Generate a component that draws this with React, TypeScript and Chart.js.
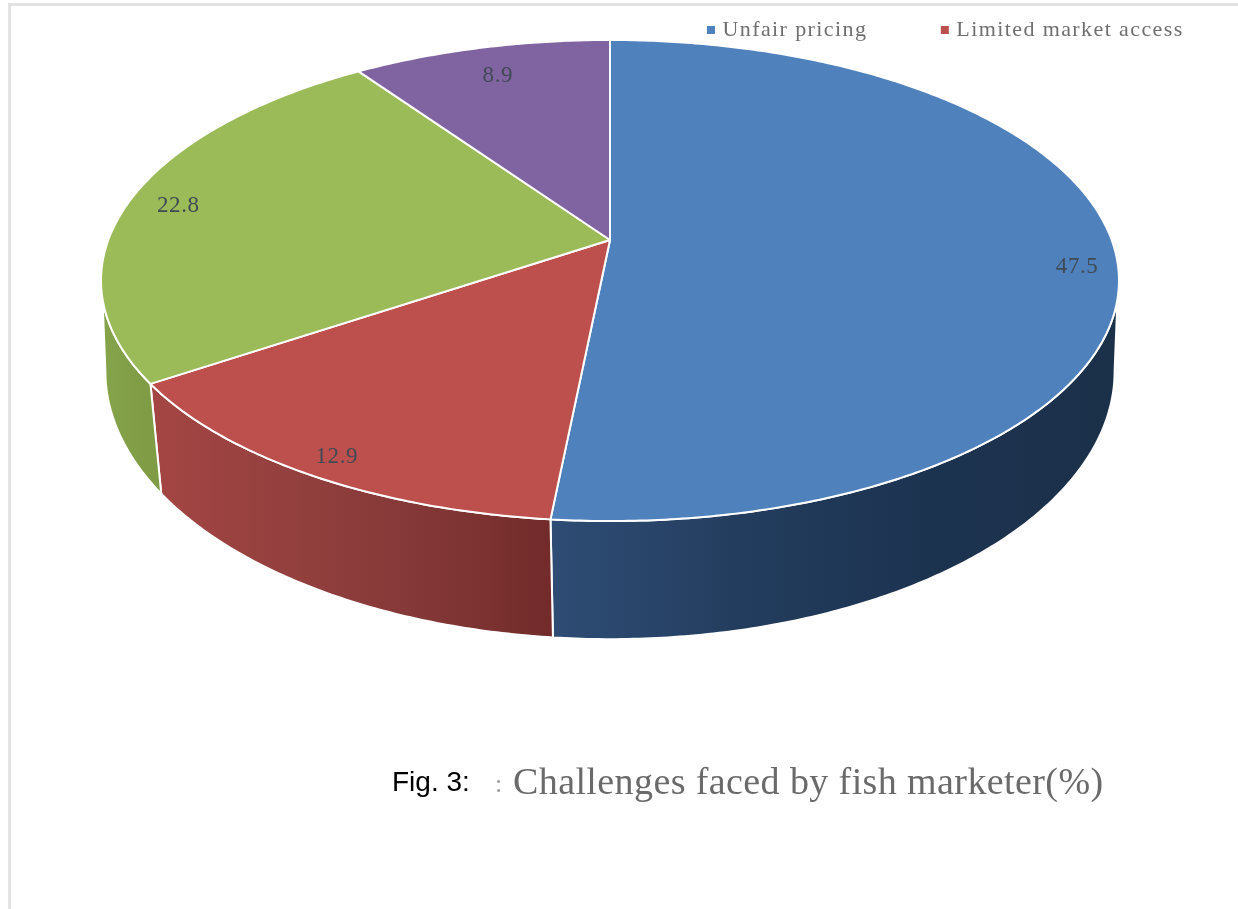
import React, { useEffect, useRef } from "react";
import { Chart, registerables } from "chart.js";

Chart.register(...registerables);

const categories = ["Unfair pricing", "Limited market access", "Other challenges", "Other constraints"];
const shares = [47.5, 12.9, 22.8, 8.9];
const topColors = ["#4f81bd", "#bd4f4c", "#9bbb59", "#8064a2"];
const wallStops = [
  ["#2e4c74", "#233d5e", "#1c3350", "#1b3049"],
  ["#a34543", "#93403e", "#833837", "#722b2a"],
  ["#85a34a", "#82a048", "#809d46", "#7e9b45"],
  ["#5f4a7c", "#5f4a7c", "#5f4a7c", "#5f4a7c"],
];
const legendCount = 2;
const caption = "Challenges faced by fish marketer(%)";
const figureLabel = "Fig. 3:";

const SERIF = '"Liberation Serif", serif';
const LEGEND_SPACING = "1.4px";

// Tilted-disc projection of the pie: x/y are unit-circle coordinates.
const topFace = { cx: 610, cy: 240, a: 501.7, b: 233.7, k: -0.1684 };
const baseFace = { cx: 610, cy: 335, a: 500, b: 263.1, k: -0.135 };
const degrees = (d: number) => (d * Math.PI) / 180;
// The rim leaves the top face a little lower than where the base outline is widest.
const TOP_WALL = [degrees(104), degrees(256)];
const BASE_WALL = [degrees(97.7), degrees(262.3)];
const LABEL_PLACE = [
  { r: 0.925, dy: 16 },
  { r: 0.92, dy: 4 },
  { r: 0.9, dy: 4 },
  { r: 0.85, dy: 3 },
];

type Face = typeof topFace;

function project(face: Face, theta: number, r = 1) {
  const x = r * Math.sin(theta);
  const y = -r * Math.cos(theta);
  const w = 1 + face.k * y;
  return { x: face.cx + (face.a * x) / w, y: face.cy + (face.b * y) / w };
}

function trace(ctx: CanvasRenderingContext2D, face: Face, from: number, to: number, move = false) {
  const steps = Math.max(2, Math.ceil(Math.abs(to - from) / 0.01));
  for (let i = 0; i <= steps; i++) {
    const p = project(face, from + ((to - from) * i) / steps);
    if (i === 0 && move) ctx.moveTo(p.x, p.y);
    else ctx.lineTo(p.x, p.y);
  }
}

const tiltedPie = {
  id: "tiltedPie",
  beforeDraw(chart: any) {
    chart.ctx.letterSpacing = LEGEND_SPACING;
  },
  beforeLayout(chart: any) {
    chart.ctx.letterSpacing = LEGEND_SPACING;
  },
  afterLayout(chart: any) {
    chart.legend.left = 633.5;
    chart.legend.right = 1500;
    chart.legend.top = -58;
  },
  beforeDatasetsDraw(chart: any) {
    const ctx: CanvasRenderingContext2D = chart.ctx;
    const arcs = chart.getDatasetMeta(0).data;
    ctx.save();
    ctx.lineJoin = "round";
    ctx.strokeStyle = "#ffffff";
    ctx.lineWidth = 2;

    arcs.forEach((arc: any, i: number) => {
      const a0 = arc.startAngle + Math.PI / 2;
      const a1 = arc.endAngle + Math.PI / 2;
      const topStart = Math.max(a0, TOP_WALL[0]);
      const topEnd = Math.min(a1, TOP_WALL[1]);
      const baseStart = Math.max(a0, BASE_WALL[0]);
      const baseEnd = Math.min(a1, BASE_WALL[1]);
      if (topEnd <= topStart) return;
      const left = project(baseFace, baseEnd).x;
      const right = project(baseFace, baseStart).x;
      const grad = ctx.createLinearGradient(Math.min(left, right), 0, Math.max(left, right), 0);
      wallStops[i].forEach((c, j) => grad.addColorStop(j / 3, c));
      ctx.beginPath();
      trace(ctx, topFace, topStart, topEnd, true);
      trace(ctx, baseFace, baseEnd, baseStart);
      ctx.closePath();
      ctx.fillStyle = grad;
      ctx.fill();
      ctx.stroke();
    });

    arcs.forEach((arc: any, i: number) => {
      const start = arc.startAngle + Math.PI / 2;
      const end = arc.endAngle + Math.PI / 2;
      ctx.beginPath();
      ctx.moveTo(topFace.cx, topFace.cy);
      trace(ctx, topFace, start, end);
      ctx.closePath();
      ctx.fillStyle = topColors[i];
      ctx.fill();
      ctx.stroke();
    });

    ctx.letterSpacing = "0.6px";
    ctx.fillStyle = "#404a55";
    ctx.font = `23px ${SERIF}`;
    ctx.textAlign = "center";
    ctx.textBaseline = "middle";
    arcs.forEach((arc: any, i: number) => {
      const mid = (arc.startAngle + arc.endAngle) / 2 + Math.PI / 2;
      const place = LABEL_PLACE[i];
      const p = project(topFace, mid, place.r);
      ctx.fillText(shares[i].toFixed(1), p.x, p.y + place.dy);
    });
    ctx.restore();
    return false;
  },
  afterDraw(chart: any) {
    const ctx: CanvasRenderingContext2D = chart.ctx;
    ctx.save();
    ctx.textAlign = "left";
    ctx.textBaseline = "alphabetic";
    ctx.letterSpacing = "0px";
    ctx.fillStyle = "#000000";
    ctx.font = '28px "Liberation Sans", sans-serif';
    ctx.fillText(figureLabel, 392, 791);
    ctx.fillStyle = "#6a6a6a";
    ctx.font = `38px ${SERIF}`;
    ctx.letterSpacing = "0.4px";
    ctx.fillText(caption, 513, 794);
    ctx.fillStyle = "#9a9a9a";
    ctx.font = `26px ${SERIF}`;
    ctx.fillText(":", 495, 792);
    ctx.restore();
  },
};

export default function App() {
  const ref = useRef<HTMLCanvasElement>(null);

  useEffect(() => {
    document.body.style.margin = "0";
    document.body.style.background = "#ffffff";
    const chart = new Chart(ref.current as HTMLCanvasElement, {
      type: "pie",
      data: {
        labels: categories,
        datasets: [{ data: shares, backgroundColor: topColors, borderColor: "#ffffff", borderWidth: 2 }],
      },
      options: {
        responsive: false,
        animation: false,
        rotation: 0,
        layout: { padding: 0 },
        plugins: {
          tooltip: { enabled: false },
          legend: {
            display: true,
            position: "top",
            align: "start",
            labels: {
              boxWidth: 1,
              boxHeight: 1,
              padding: 77,
              font: { family: SERIF, size: 22 },
              generateLabels: () =>
                categories.slice(0, legendCount).map((text, index) => ({
                  text,
                  index,
                  fillStyle: topColors[index],
                  strokeStyle: topColors[index],
                  fontColor: "#6f6f6f",
                  lineWidth: 7,
                  hidden: false,
                })),
            },
          },
        },
      },
      plugins: [tiltedPie],
    } as any);
    return () => chart.destroy();
  }, []);

  return (
    <div style={{ position: "relative", width: 1238, height: 909, overflow: "hidden", background: "#fff" }}>
      <div
        style={{
          position: "absolute",
          left: 8,
          top: 3,
          right: 0,
          bottom: 0,
          borderTop: "3px solid #e3e3e3",
          borderLeft: "3px solid #e3e3e3",
        }}
      />
      <canvas ref={ref} width={1238} height={909} style={{ position: "absolute", left: 0, top: 0, display: "block" }} />
    </div>
  );
}
